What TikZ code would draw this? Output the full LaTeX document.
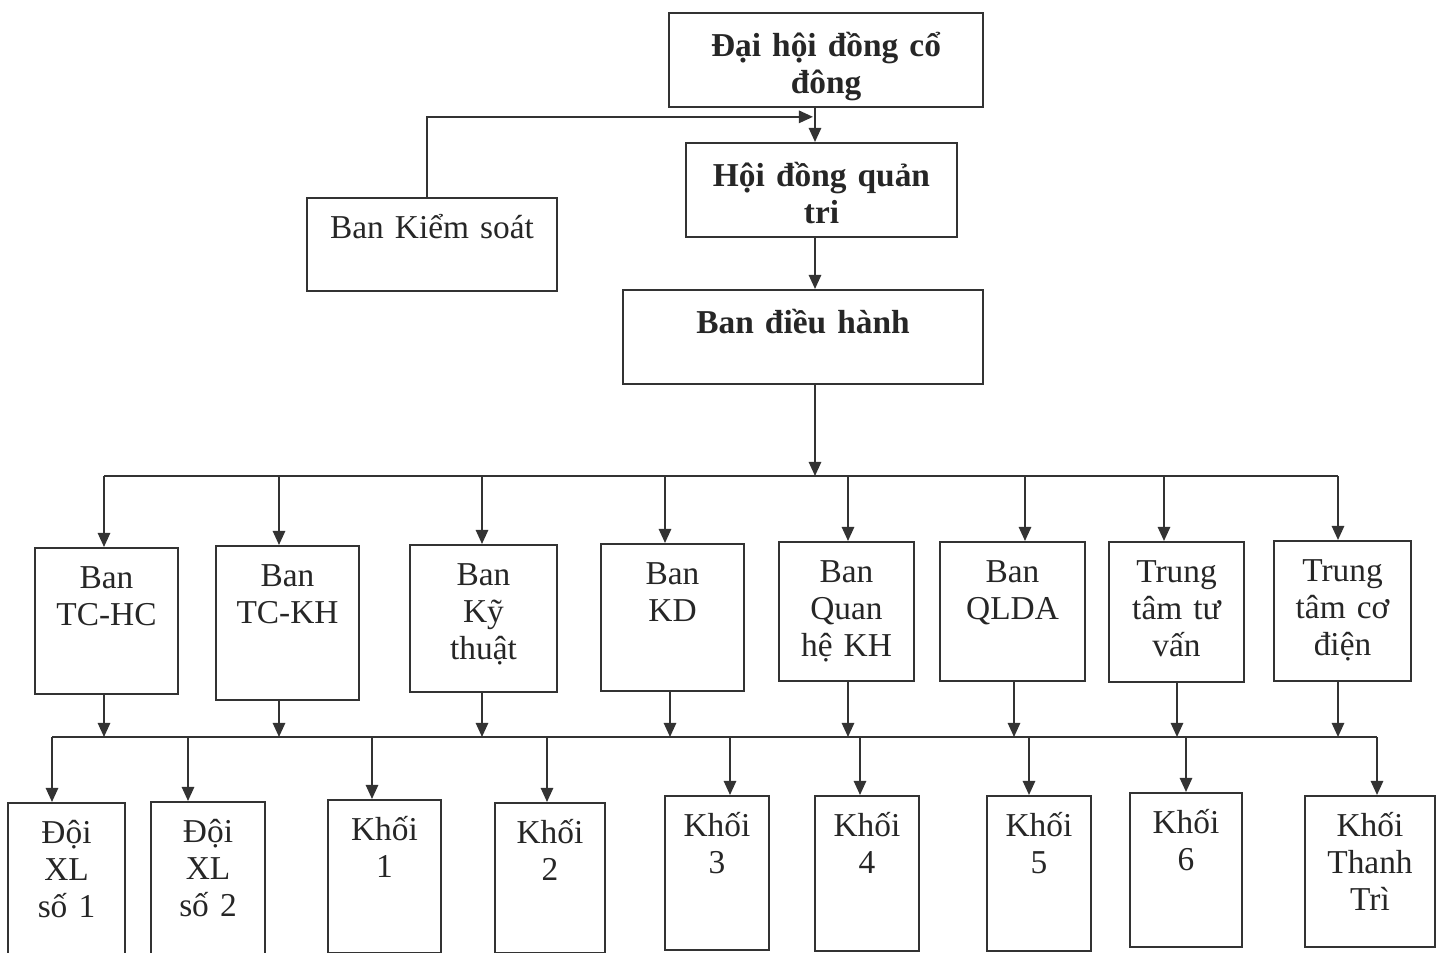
\documentclass[tikz,border=0pt]{standalone}
\usepackage{fontspec}
\setmainfont{Liberation Serif}
\usetikzlibrary{arrows.meta}

\begin{document}
\begin{tikzpicture}[x=0.02cm,y=-0.02cm,->,>={Triangle[length=8pt,width=7pt]},line width=1.1pt,draw=black!80,
                      main node/.style={draw,-,inner sep=0pt,align=center,anchor=north,text height=25pt,
                                        text=black!85,font=\fontsize{19}{21}\selectfont\bfseries},
                      dept node/.style={main node,text height=23pt,font=\fontsize{19}{21}\selectfont}]

    \useasboundingbox (0,0) rectangle (1440,953);

    % top of the chart
    \node[main node, text width=6.28cm, text depth=1.00cm] (dhd)  at (826,12)    {Đại hội đồng cổ\\đông};
    \node[main node, text width=5.42cm, text depth=1.00cm] (hdqt) at (821.5,142) {Hội đồng quản\\tri};
    \node[dept node, text width=5.00cm, text depth=1.05cm] (bks)  at (432,197)   {Ban Kiểm soát};
    \node[main node, text width=7.20cm, text depth=1.00cm] (bdh)  at (803,289)   {Ban điều hành};

    \coordinate (bus1) at (815,476);
    \coordinate (bus2) at (700,737);

    % ban / trung tam
    \node[dept node, text width=2.86cm, text depth=2.11cm] (tchc) at (106.5,547)  {Ban\\TC-HC};
    \node[dept node, text width=2.86cm, text depth=2.27cm] (tckh) at (287.5,545)  {Ban\\TC-KH};
    \node[dept node, text width=2.94cm, text depth=2.13cm] (kt)   at (483.5,544)  {Ban\\Kỹ\\thuật};
    \node[dept node, text width=2.86cm, text depth=2.13cm] (kd)   at (672.5,543)  {Ban\\KD};
    \node[dept node, text width=2.70cm, text depth=1.97cm] (qhkh) at (846.5,541)  {Ban\\Quan\\hệ KH};
    \node[dept node, text width=2.90cm, text depth=1.97cm] (qlda) at (1012.5,541) {Ban\\QLDA};
    \node[dept node, text width=2.70cm, text depth=1.99cm] (tttv) at (1176.5,541) {Trung\\tâm tư\\vấn};
    \node[dept node, text width=2.74cm, text depth=1.99cm] (ttcd) at (1342.5,540) {Trung\\tâm cơ\\điện};

    % doi / khoi
    \node[dept node, text width=2.34cm, text depth=2.55cm] (xl1) at (66.5,802) {Đội\\XL\\số 1};
    \node[dept node, text width=2.28cm, text depth=2.57cm] (xl2) at (208,801)  {Đội\\XL\\số 2};
    \node[dept node, text width=2.26cm, text depth=2.25cm] (k1)  at (384.5,799) {Khối\\1};
    \node[dept node, text width=2.20cm, text depth=2.19cm] (k2)  at (550,802)  {Khối\\2};
    \node[dept node, text width=2.08cm, text depth=2.27cm] (k3)  at (717,795)  {Khối\\3};
    \node[dept node, text width=2.08cm, text depth=2.29cm] (k4)  at (867,795)  {Khối\\4};
    \node[dept node, text width=2.08cm, text depth=2.29cm] (k5)  at (1039,795) {Khối\\5};
    \node[dept node, text width=2.24cm, text depth=2.27cm] (k6)  at (1186,792) {Khối\\6};
    \node[dept node, text width=2.60cm, text depth=2.21cm] (ktt) at (1370,795) {Khối\\Thanh\\Trì};

    % connectors
    \draw ([xshift=-0.22cm]dhd.south) -- ([xshift=-0.22cm]dhd.south |- hdqt.north);
    \draw ([xshift=-0.10cm]bks.north) |- ([xshift=-0.26cm,yshift=-0.18cm]dhd.south);
    \draw ([xshift=-0.13cm]hdqt.south) -- ([xshift=-0.13cm]hdqt.south |- bdh.north);
    \draw ([xshift=0.24cm]bdh.south) -- ([xshift=0.24cm]bdh.south |- bus1);

    \draw[-] ([xshift=-0.05cm]tchc.north |- bus1) -- ([xshift=-0.09cm]ttcd.north |- bus1);
    \foreach \n/\o in {tchc/-0.05,tckh/-0.17,kt/-0.03,kd/-0.15,qhkh/0.03,qlda/0.25,tttv/-0.25,ttcd/-0.09}
      \draw ([xshift=\o cm]\n.north |- bus1) -- ([xshift=\o cm]\n.north);
    \foreach \n/\o in {tchc/-0.05,tckh/-0.17,kt/-0.03,kd/-0.05,qhkh/0.03,qlda/0.03,tttv/0.01,ttcd/-0.09}
      \draw ([xshift=\o cm]\n.south) -- ([xshift=\o cm]\n.south |- bus2);

    \draw[-] ([xshift=-0.29cm]xl1.north |- bus2) -- ([xshift=0.14cm]ktt.north |- bus2);
    \foreach \n/\o in {xl1/-0.29,xl2/-0.40,k1/-0.25,k2/-0.06,k3/0.26,k4/-0.14,k5/-0.20,k6/0,ktt/0.14}
      \draw ([xshift=\o cm]\n.north |- bus2) -- ([xshift=\o cm]\n.north);

\end{tikzpicture}
\end{document}
